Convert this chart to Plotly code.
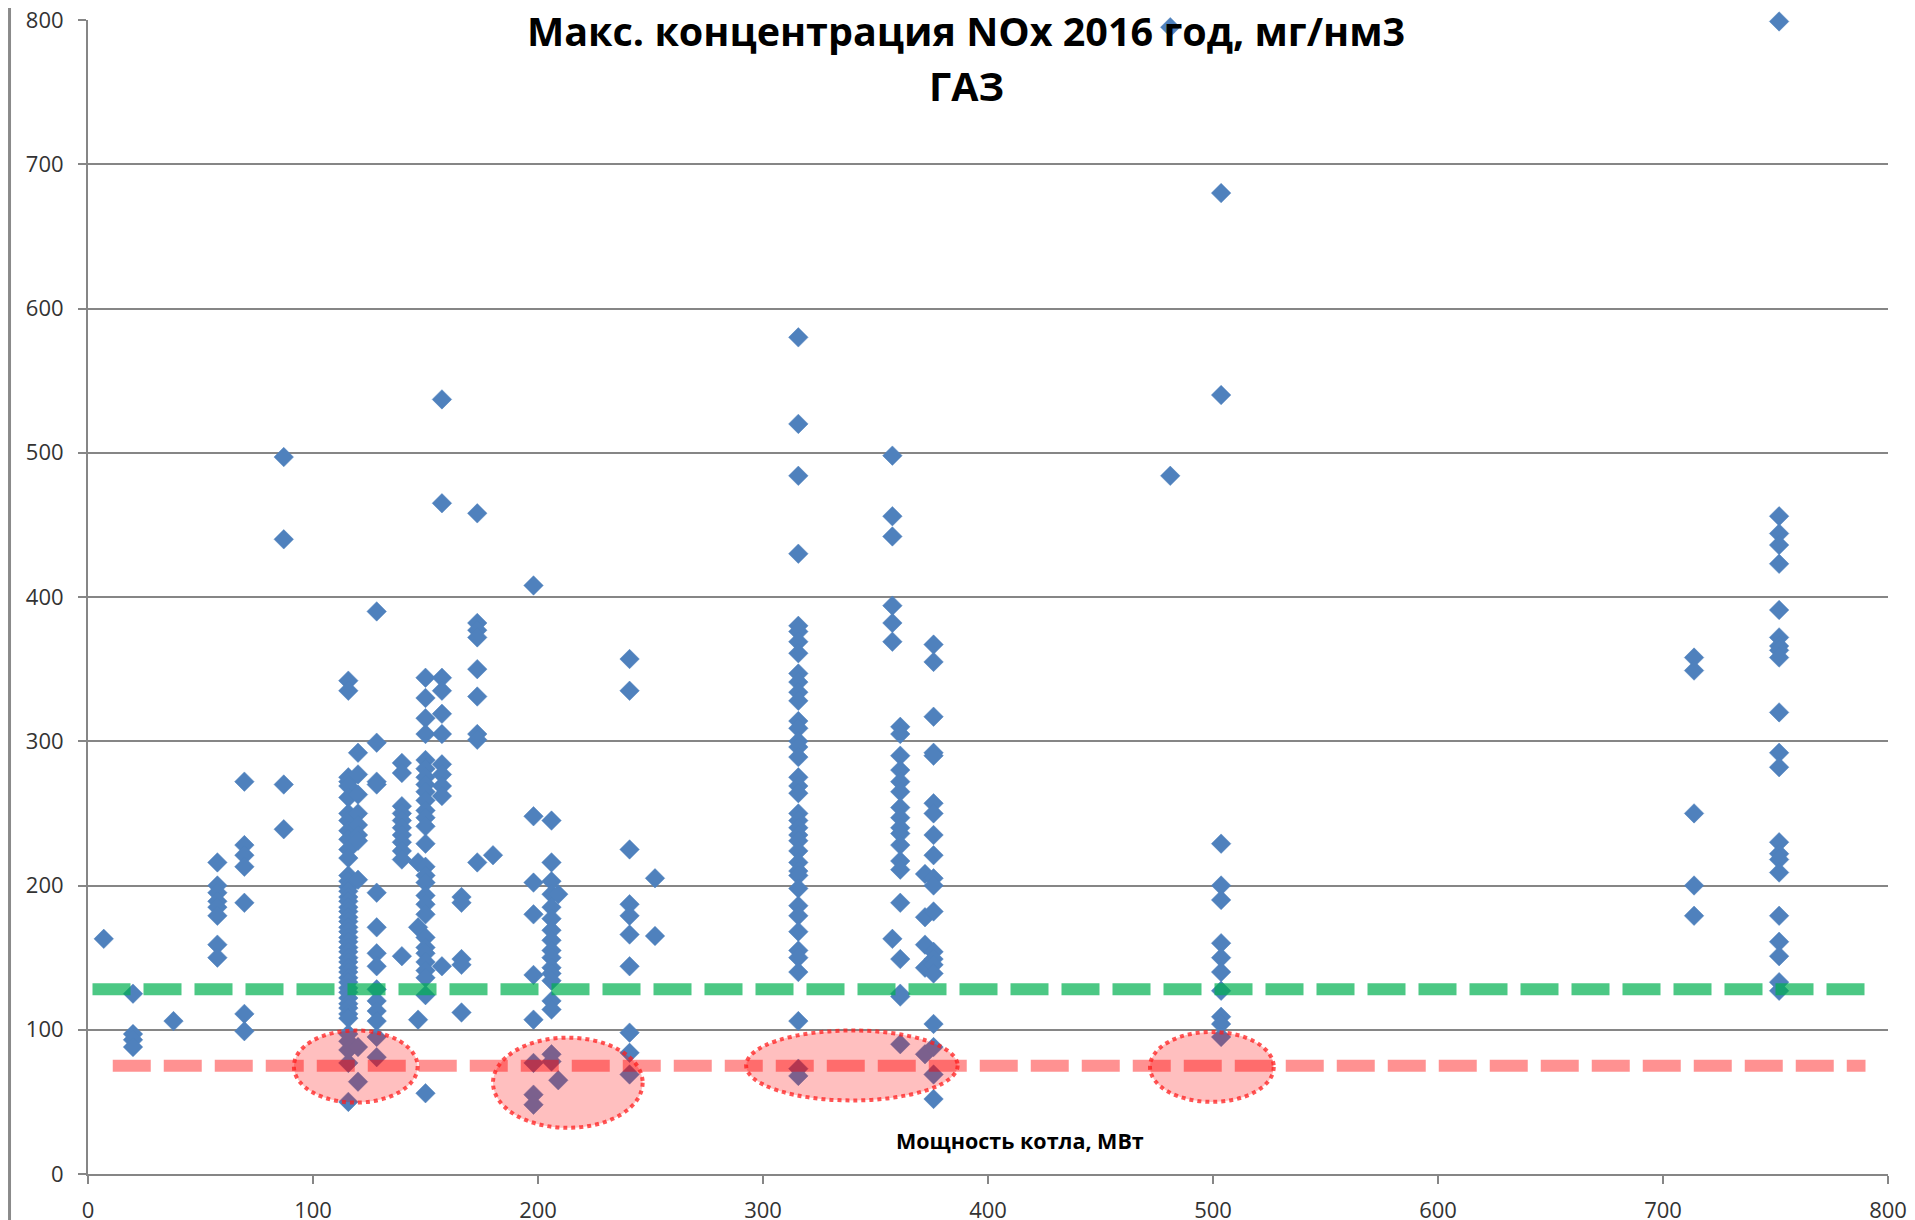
import plotly.graph_objects as go

# Boiler power (MW) columns and max NOx values (mg/nm3)
col_power = [7, 20, 38, 57.5, 69.5, 87, 115.7, 120, 128.3, 139.5, 146.7, 150,
             157.3, 166, 173, 180, 198, 206, 209, 240.7, 252, 315.7, 357.5,
             361, 372, 375.8, 481, 503.6, 713.8, 751.6]

col_nox = [
    [163],
    [125, 97, 93, 88],
    [106],
    [216, 200, 195, 189, 185, 179, 159, 150],
    [272, 228, 221, 213, 188, 111, 99],
    [497, 440, 270, 239],
    [342, 335, 275, 272, 269, 261, 250, 245, 238, 232, 225, 219, 207, 203, 199,
     196, 192, 189, 185, 182, 178, 175, 171, 168, 164, 161, 157, 154, 150, 147,
     143, 140, 136, 133, 129, 126, 122, 118, 115, 111, 108, 97, 92, 86, 77, 50],
    [292, 277, 263, 250, 242, 235, 231, 204, 88, 64],
    [390, 299, 272, 270, 195, 171, 153, 144, 128, 120, 113, 106, 95, 81],
    [285, 278, 255, 250, 245, 240, 235, 230, 224, 218, 151],
    [216, 171, 107],
    [344, 330, 316, 305, 287, 281, 275, 270, 265, 259, 252, 247, 241, 229, 213,
     207, 202, 193, 187, 180, 164, 157, 153, 147, 141, 136, 124, 56],
    [537, 465, 344, 335, 319, 305, 284, 277, 269, 262, 144],
    [192, 188, 149, 145, 112],
    [458, 382, 377, 372, 350, 331, 305, 301, 216],
    [221],
    [408, 248, 202, 180, 138, 107, 77, 55, 48],
    [245, 216, 203, 194, 185, 177, 169, 162, 155, 150, 143, 139, 134, 120, 114, 83, 78],
    [194, 65],
    [357, 335, 225, 187, 179, 166, 144, 98, 84, 69],
    [205, 165],
    [580, 520, 484, 430, 380, 376, 369, 361, 347, 341, 334, 328, 314, 309, 300,
     296, 289, 275, 269, 264, 250, 245, 240, 235, 231, 224, 216, 210, 207, 198,
     186, 179, 168, 155, 150, 140, 106, 73, 68],
    [498, 456, 442, 394, 382, 369, 163],
    [310, 305, 290, 280, 272, 265, 254, 247, 240, 236, 228, 217, 211, 188, 149, 125, 123, 90],
    [208, 178, 159, 143, 83],
    [367, 355, 317, 292, 290, 257, 250, 235, 221, 205, 200, 182, 154, 149, 145, 139, 104, 88, 69, 52],
    [795, 484],
    [680, 540, 229, 200, 190, 160, 150, 140, 127, 109, 104, 95],
    [358, 349, 250, 200, 179],
    [799, 456, 444, 436, 423, 391, 372, 366, 363, 358, 320, 292, 282, 230, 222,
     218, 209, 179, 161, 151, 133, 127],
]

# Reference levels
green_level = 128
red_level = 75
green_span = [2, 790]
red_span = [11, 790]

# Highlighted low-emission zones: (x0, x1, y0, y1)
zones_x0 = [91.5, 180, 292.5, 472]
zones_x1 = [146.5, 246.5, 386.5, 527]
zones_y0 = [49.5, 32, 51, 50]
zones_y1 = [99.5, 94.5, 99.5, 98.5]

title_line1 = "Макс. концентрация NOx 2016 год, мг/нм3"
title_line2 = "ГАЗ"
x_title = "Мощность котла, МВт"
tick_vals = [0, 100, 200, 300, 400, 500, 600, 700, 800]

xs, ys = [], []
for p, vals in zip(col_power, col_nox):
    for v in vals:
        xs.append(p)
        ys.append(v)

fig = go.Figure()
fig.add_trace(go.Scatter(
    x=xs, y=ys, mode="markers",
    marker=dict(symbol="diamond", size=15, color="#4F81BD",
                line=dict(width=0.5, color="#4F81BD")),
    cliponaxis=False, showlegend=False, hoverinfo="x+y"))

shapes = []
shapes.append(dict(type="line", xref="x", yref="y",
                   x0=red_span[0], x1=red_span[1], y0=red_level, y1=red_level,
                   line=dict(color="rgba(255,0,0,0.43)", width=12, dash="38px,13px"),
                   layer="above"))
shapes.append(dict(type="line", xref="x", yref="y",
                   x0=green_span[0], x1=green_span[1], y0=green_level, y1=green_level,
                   line=dict(color="rgba(0,176,80,0.7)", width=12, dash="38px,13px"),
                   layer="above"))
for a, b, c, d in zip(zones_x0, zones_x1, zones_y0, zones_y1):
    shapes.append(dict(type="circle", xref="x", yref="y", x0=a, x1=b, y0=c, y1=d,
                       fillcolor="rgba(255,0,0,0.25)",
                       line=dict(color="rgba(255,30,30,0.75)", width=4, dash="dot"),
                       layer="above"))
# left border of the picture
shapes.append(dict(type="line", xref="paper", yref="paper",
                   x0=-0.0436, x1=-0.0436, y0=-0.05, y1=1.02,
                   line=dict(color="#8a8a8a", width=3)))

fig.update_layout(
    width=1907, height=1212,
    margin=dict(l=80, r=27, t=12, b=46, autoexpand=False),
    paper_bgcolor="white", plot_bgcolor="white",
    shapes=shapes,
    font=dict(family="Open Sans, sans-serif", color="#333333"),
    annotations=[
        dict(text=title_line1, xref="paper", yref="paper", x=0.488, y=0.9905,
             xanchor="center", yanchor="middle", showarrow=False,
             font=dict(family="Open Sans", size=39.5, color="black", weight="bold")),
        dict(text=title_line2, xref="paper", yref="paper", x=0.488, y=0.9425,
             xanchor="center", yanchor="middle", showarrow=False,
             font=dict(family="Open Sans", size=39.5, color="black", weight="bold")),
        dict(text=x_title, xref="paper", yref="paper", x=0.5176, y=0.029,
             xanchor="center", yanchor="middle", showarrow=False,
             font=dict(family="Open Sans", size=21.5, color="black", weight="bold")),
    ],
)
fig.update_xaxes(range=[0, 800], tickvals=tick_vals, showgrid=False,
                 showline=True, linecolor="#868686", linewidth=2,
                 ticks="outside", ticklen=8, tickwidth=2, tickcolor="#868686",
                 tickfont=dict(size=22, color="#333333"), zeroline=False,
                 ticklabelstandoff=8, automargin=False, ticklabeloverflow="allow")
fig.update_yaxes(range=[0, 800], tickvals=tick_vals, showgrid=True,
                 gridcolor="#868686", gridwidth=2,
                 showline=True, linecolor="#868686", linewidth=2,
                 ticks="outside", ticklen=8, tickwidth=2, tickcolor="#868686",
                 tickfont=dict(size=22, color="#333333"), zeroline=False,
                 ticklabelstandoff=10, automargin=False, ticklabeloverflow="allow")

fig.write_html("out.html")
